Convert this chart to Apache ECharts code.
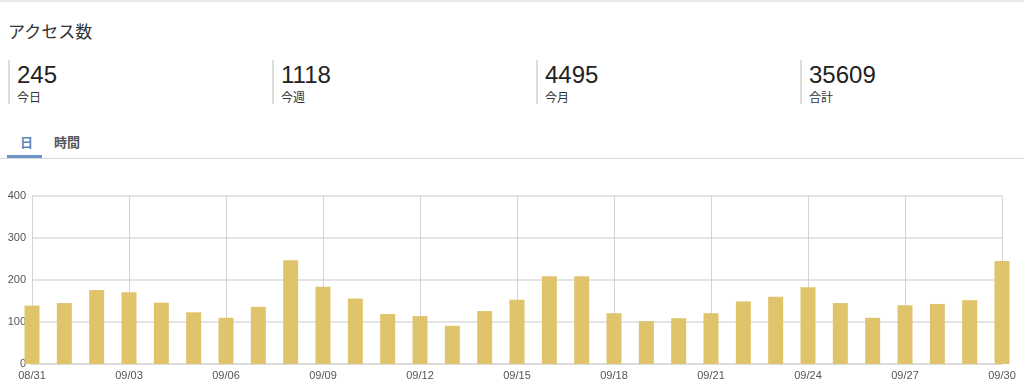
<!DOCTYPE html>
<html>
<head>
<meta charset="utf-8">
<script src="https://cdn.jsdelivr.net/npm/echarts@6/dist/echarts.min.js"></script>
<style>
  html, body { margin: 0; padding: 0; width: 1024px; height: 388px; overflow: hidden; background: #fff;
    font-family: "Liberation Sans", "Noto Sans CJK JP", sans-serif; color: #222; }
  .topline { position: absolute; left: 0; top: 0; width: 1024px; height: 2px; background: #e6e9eb; }
  .title { position: absolute; left: 8px; top: 20px; font-size: 17px; font-family: "Noto Sans CJK JP", sans-serif; color: #333; line-height: 22px; }
  .stat { position: absolute; top: 60px; height: 44px; border-left: 2px solid #dedede; padding-left: 7px; }
  .stat .num { font-size: 24px; line-height: 24px; margin-top: 3px; color: #222; }
  .stat .lab { font-size: 12px; line-height: 14px; margin-top: 3px; font-family: "Noto Sans CJK JP", sans-serif; color: #333; }
  .tabs { position: absolute; left: 0; top: 130px; width: 1024px; height: 28px; border-bottom: 1px solid #d6dadd; }
  .tab { position: absolute; top: 2px; font-size: 13px; font-family: "Noto Sans CJK JP", sans-serif; font-weight: bold; }
  .tab1 { left: 20px; color: #5b87ba; }
  .tab2 { left: 54px; color: #555; }
  .under { position: absolute; left: 7px; top: 25px; width: 35px; height: 3px; background: #6a93c4; }
  #chart { position: absolute; left: 0; top: 170px; width: 1024px; height: 218px; }
</style>
</head>
<body>
<div class="topline"></div>
<div class="title">アクセス数</div>
<div id="stats"></div>
<div class="tabs">
  <div class="tab tab1">日</div>
  <div class="tab tab2">時間</div>
  <div class="under"></div>
</div>
<div id="chart"></div>
<script>
const statValues = ["245", "1118", "4495", "35609"];
const statLabels = ["今日", "今週", "今月", "合計"];
const categories = ["08/31","09/01","09/02","09/03","09/04","09/05","09/06","09/07","09/08","09/09",
  "09/10","09/11","09/12","09/13","09/14","09/15","09/16","09/17","09/18","09/19",
  "09/20","09/21","09/22","09/23","09/24","09/25","09/26","09/27","09/28","09/29","09/30"];
const visits = [139,145,176,171,146,123,110,136,247,184,
  156,119,114,91,126,153,209,209,121,102,
  109,121,149,160,183,145,110,140,143,152,245];
const yTicks = [0, 100, 200, 300, 400];

const statsEl = document.getElementById('stats');
const statLeft = [8, 272, 536, 800];
statValues.forEach((v, i) => {
  const d = document.createElement('div');
  d.className = 'stat';
  d.style.left = statLeft[i] + 'px';
  d.innerHTML = '<div class="num">' + v + '</div><div class="lab">' + statLabels[i] + '</div>';
  statsEl.appendChild(d);
});

const chart = echarts.init(document.getElementById('chart'), null, { renderer: 'canvas' });
chart.setOption({
  animation: false,
  grid: { left: 32, right: 22, top: 26, bottom: 24 },
  xAxis: {
    type: 'category',
    data: categories,
    boundaryGap: false,
    axisLine: { show: true, lineStyle: { color: '#dcdcdc', width: 2 } },
    axisTick: { show: false },
    axisLabel: { interval: 2, color: '#555', fontSize: 11, margin: 6, fontFamily: 'Liberation Sans' },
    splitLine: { show: true, interval: 2, lineStyle: { color: '#d4d4d4', width: 1 } }
  },
  yAxis: {
    type: 'value',
    min: yTicks[0],
    max: yTicks[yTicks.length - 1],
    interval: 100,
    axisLine: { show: false },
    axisTick: { show: false },
    axisLabel: { color: '#555', fontSize: 11, margin: 6, fontFamily: 'Liberation Sans' },
    splitLine: { lineStyle: { color: '#e4e4e4', width: 2 } }
  },
  series: [{
    type: 'bar',
    data: visits,
    barWidth: 15,
    itemStyle: { color: '#e0c46b' }
  }]
});
</script>
</body>
</html>
